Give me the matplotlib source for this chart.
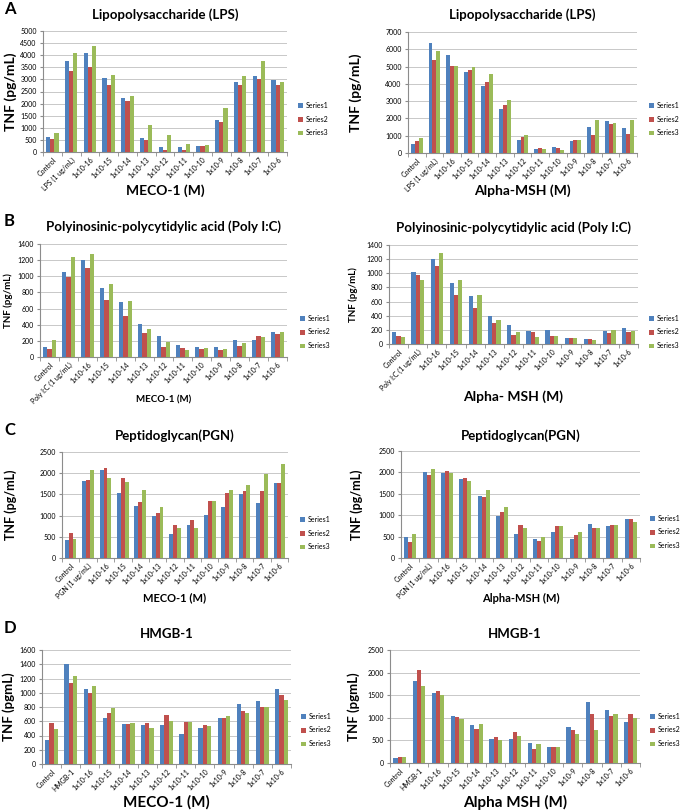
import numpy as np
import matplotlib.pyplot as plt

plt.rcParams['font.family'] = ['Lato', 'DejaVu Sans']

W, H = 685, 810

doses = ["1x10-16", "1x10-15", "1x10-14", "1x10-13", "1x10-12", "1x10-11",
         "1x10-10", "1x10-9", "1x10-8", "1x10-7", "1x10-6"]
cats_lps = ["Control", "LPS (1 ug/mL)"] + doses
cats_pic = ["Control", "Poly I:C (1 ug/mL)"] + doses
cats_pgn = ["Control", "PGN (1 ug/mL)"] + doses
cats_hmgb = ["Control", "HMGB-1"] + doses

# A - LPS
lps_meco_s1 = [600, 3750, 4080, 3060, 2220, 560, 190, 190, 250, 1340, 2900, 3120, 2980]
lps_meco_s2 = [530, 3330, 3500, 2750, 2120, 480, 90, 90, 250, 1240, 2750, 3000, 2760]
lps_meco_s3 = [800, 4100, 4400, 3180, 2300, 1130, 700, 330, 300, 1800, 3160, 3780, 2900]
lps_msh_s1 = [500, 6370, 5680, 4680, 3880, 2540, 780, 240, 370, 700, 1530, 1830, 1430]
lps_msh_s2 = [720, 5370, 5060, 4780, 4100, 2780, 900, 270, 300, 760, 1020, 1650, 1100]
lps_msh_s3 = [850, 5900, 5060, 5000, 4580, 3060, 1020, 260, 200, 760, 1900, 1720, 1900]

# B - Poly I:C
pic_meco_s1 = [120, 1050, 1200, 855, 685, 405, 265, 145, 130, 120, 210, 215, 310]
pic_meco_s2 = [105, 985, 1100, 705, 510, 300, 125, 110, 100, 85, 135, 255, 290]
pic_meco_s3 = [210, 1240, 1280, 900, 700, 350, 180, 90, 115, 100, 175, 245, 305]
pic_msh_s1 = [165, 1020, 1200, 860, 685, 400, 265, 185, 195, 90, 65, 190, 220]
pic_msh_s2 = [120, 980, 1100, 700, 510, 295, 125, 165, 120, 90, 70, 150, 165]
pic_msh_s3 = [95, 910, 1280, 900, 700, 345, 175, 95, 110, 80, 60, 195, 185]

# C - PGN
pgn_meco_s1 = [420, 1810, 2080, 1530, 1230, 1000, 560, 770, 1020, 1200, 1500, 1300, 1760]
pgn_meco_s2 = [600, 1830, 2130, 1880, 1330, 1070, 780, 900, 1350, 1530, 1590, 1590, 1770]
pgn_meco_s3 = [450, 2080, 1890, 1790, 1600, 1200, 710, 700, 1340, 1600, 1710, 1990, 2220]
pgn_msh_s1 = [490, 2010, 1990, 1840, 1440, 990, 560, 450, 610, 440, 800, 750, 900]
pgn_msh_s2 = [370, 1930, 2030, 1880, 1420, 1070, 780, 390, 750, 530, 700, 780, 900]
pgn_msh_s3 = [560, 2090, 1990, 1790, 1600, 1200, 710, 500, 750, 600, 700, 780, 830]

# D - HMGB-1
hmgb_meco_s1 = [330, 1400, 1050, 650, 560, 550, 545, 415, 500, 650, 840, 880, 1050]
hmgb_meco_s2 = [570, 1140, 1000, 715, 560, 580, 690, 595, 545, 650, 750, 800, 975]
hmgb_meco_s3 = [490, 1240, 1100, 790, 570, 500, 610, 590, 530, 680, 710, 800, 905]
hmgb_msh_s1 = [100, 1810, 1550, 1040, 850, 540, 540, 440, 360, 800, 1340, 1180, 910]
hmgb_msh_s2 = [140, 2050, 1600, 1010, 750, 580, 680, 320, 360, 720, 1080, 1050, 1080]
hmgb_msh_s3 = [140, 1710, 1500, 980, 860, 500, 600, 420, 360, 640, 720, 1080, 1000]

series_names = ["Series1", "Series2", "Series3"]
colors = ["#4F81BD", "#C0504D", "#9BBB59"]

fig = plt.figure(figsize=(W / 100, H / 100), dpi=100)


def px(x, y):
    return x / W, 1 - y / H


def panel(box, cats, vals, ymax, ystep, title, title_y, ylabel, ylab_x, ylab_fs,
          xlabel, xlab_y, xlab_fs, leg_x, leg_y, letter=None):
    l, t, r, b = box
    ax = fig.add_axes([l / W, 1 - b / H, (r - l) / W, (b - t) / H])
    x = np.arange(len(cats))
    bw = 0.22
    for i, (v, c, n) in enumerate(zip(vals, colors, series_names)):
        ax.bar(x + (i - 1) * bw, v, bw, color=c, label=n, zorder=3)
    ax.set_xlim(-0.5, len(cats) - 0.5)
    ax.set_ylim(0, ymax)
    ax.set_yticks(np.arange(0, ymax + 1, ystep))
    ax.yaxis.grid(True, color="#C8C8C8", linewidth=0.7, zorder=0)
    for s in ["top", "right"]:
        ax.spines[s].set_visible(False)
    for s in ["left", "bottom"]:
        ax.spines[s].set_color("#8C8C8C")
        ax.spines[s].set_linewidth(0.8)
    ax.set_xticks(x)
    ax.set_xticklabels(cats, rotation=45, ha="right", rotation_mode="anchor", fontsize=5)
    ax.set_xticks(np.arange(-0.5, len(cats)), minor=True)
    ax.tick_params(axis="x", which="major", length=0, pad=3)
    ax.tick_params(axis="x", which="minor", length=3, color="#8C8C8C")
    ax.tick_params(axis="y", labelsize=5, length=2.5, color="#8C8C8C", pad=2)
    cx = (l + r) / 2
    fig.text(*px(cx, title_y), title, ha="center", va="center", fontsize=9.5, fontweight="bold")
    fig.text(*px(ylab_x, (t + b) / 2), ylabel, ha="center", va="center", rotation=90,
             fontsize=ylab_fs, fontweight="bold")
    fig.text(*px(cx, xlab_y), xlabel, ha="center", va="center", fontsize=xlab_fs, fontweight="bold")
    fig.legend(*ax.get_legend_handles_labels(), loc="center left",
               bbox_to_anchor=px(leg_x, leg_y), frameon=False, fontsize=5,
               handlelength=0.7, handleheight=0.7, handletextpad=0.4,
               labelspacing=1.0, borderaxespad=0, borderpad=0)
    if letter:
        fig.text(*px(4, title_y - 6), letter, ha="left", va="center", fontsize=12, fontweight="bold")
    return ax


panel((43, 31, 287, 152), cats_lps, [lps_meco_s1, lps_meco_s2, lps_meco_s3], 5000, 500,
      "Lipopolysaccharide (LPS)", 15, "TNF (pg/mL)", 11, 10, "MECO-1 (M)", 191, 10,
      298, 119, "A")
panel((408, 32, 637, 153), cats_lps, [lps_msh_s1, lps_msh_s2, lps_msh_s3], 7000, 1000,
      "Lipopolysaccharide (LPS)", 15, "TNF (pg/mL)", 356, 10, "Alpha-MSH (M)", 191, 10,
      649, 119)

panel((40, 244, 287, 357), cats_pic, [pic_meco_s1, pic_meco_s2, pic_meco_s3], 1400, 200,
      "Polyinosinic-polycytidylic acid (Poly I:C)", 227, "TNF (pg/mL)", 8, 7, "MECO-1 (M)", 400, 7,
      300, 332, "B")
panel((389, 245, 638, 344), cats_pic, [pic_msh_s1, pic_msh_s2, pic_msh_s3], 1400, 200,
      "Polyinosinic-polycytidylic acid (Poly I:C)", 228, "TNF (pg/mL)", 353, 7, "Alpha- MSH (M)", 397, 10,
      649, 332)

panel((62, 452, 288, 558), cats_pgn, [pgn_meco_s1, pgn_meco_s2, pgn_meco_s3], 2500, 500,
      "Peptidoglycan(PGN)", 436, "TNF (pg/mL)", 11, 9, "MECO-1 (M)", 598, 8,
      300, 533, "C")
panel((401, 451, 640, 558), cats_pgn, [pgn_msh_s1, pgn_msh_s2, pgn_msh_s3], 2500, 500,
      "Peptidoglycan(PGN)", 436, "TNF (pg/mL)", 357, 9, "Alpha-MSH (M)", 598, 8,
      650, 532)

panel((42, 650, 291, 764), cats_hmgb, [hmgb_meco_s1, hmgb_meco_s2, hmgb_meco_s3], 1600, 200,
      "HMGB-1", 634, "TNF (pgmL)", 9, 9.5, "MECO-1 (M)", 802, 11,
      301, 730, "D")
panel((390, 650, 640, 763), cats_hmgb, [hmgb_msh_s1, hmgb_msh_s2, hmgb_msh_s3], 2500, 500,
      "HMGB-1", 634, "TNF (pgmL)", 354, 9.5, "Alpha MSH (M)", 802, 11,
      650, 730)

fig.savefig("out.png", dpi=100)
